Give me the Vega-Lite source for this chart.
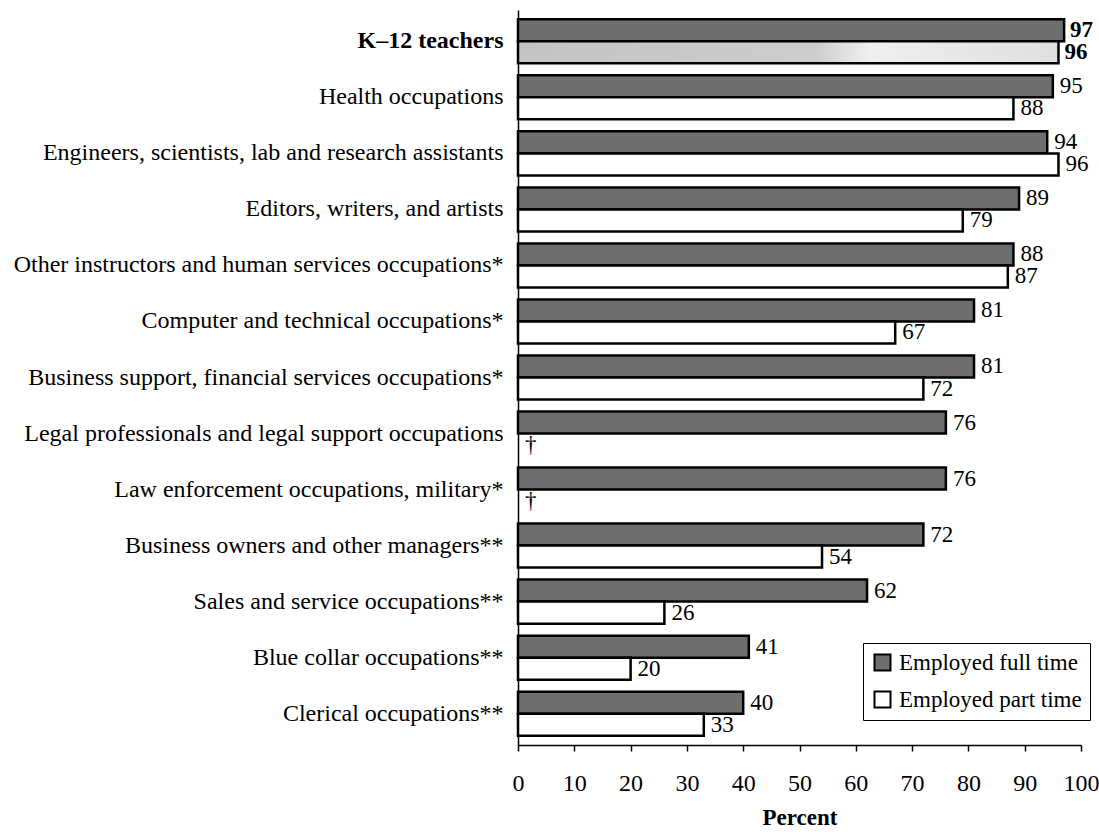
{
  "$schema": "https://vega.github.io/schema/vega-lite/v6.json",
  "autosize": {"type": "none"},
  "padding": {"left": 518, "top": 10, "right": 18, "bottom": 87},
  "width": 563,
  "height": 735,
  "background": "white",
  "config": {
    "view": {"stroke": null},
    "font": "Liberation Serif",
    "axis": {"labelFont": "Liberation Serif", "titleFont": "Liberation Serif", "labelColor": "black", "titleColor": "black", "domainColor": "black", "tickColor": "black", "grid": false},
    "legend": {"labelFont": "Liberation Serif"}
  },
  "data": {
    "values": [
      {"occ": "K–12 teachers", "series": "Employed full time", "value": 97, "label": "97"},
      {"occ": "K–12 teachers", "series": "Employed part time", "value": 96, "label": "96"},
      {"occ": "Health occupations", "series": "Employed full time", "value": 95, "label": "95"},
      {"occ": "Health occupations", "series": "Employed part time", "value": 88, "label": "88"},
      {"occ": "Engineers, scientists, lab and research assistants", "series": "Employed full time", "value": 94, "label": "94"},
      {"occ": "Engineers, scientists, lab and research assistants", "series": "Employed part time", "value": 96, "label": "96"},
      {"occ": "Editors, writers, and artists", "series": "Employed full time", "value": 89, "label": "89"},
      {"occ": "Editors, writers, and artists", "series": "Employed part time", "value": 79, "label": "79"},
      {"occ": "Other instructors and human services occupations*", "series": "Employed full time", "value": 88, "label": "88"},
      {"occ": "Other instructors and human services occupations*", "series": "Employed part time", "value": 87, "label": "87"},
      {"occ": "Computer and technical occupations*", "series": "Employed full time", "value": 81, "label": "81"},
      {"occ": "Computer and technical occupations*", "series": "Employed part time", "value": 67, "label": "67"},
      {"occ": "Business support, financial services occupations*", "series": "Employed full time", "value": 81, "label": "81"},
      {"occ": "Business support, financial services occupations*", "series": "Employed part time", "value": 72, "label": "72"},
      {"occ": "Legal professionals and legal support occupations", "series": "Employed full time", "value": 76, "label": "76"},
      {"occ": "Legal professionals and legal support occupations", "series": "Employed part time", "value": null, "label": "†"},
      {"occ": "Law enforcement occupations, military*", "series": "Employed full time", "value": 76, "label": "76"},
      {"occ": "Law enforcement occupations, military*", "series": "Employed part time", "value": null, "label": "†"},
      {"occ": "Business owners and other managers**", "series": "Employed full time", "value": 72, "label": "72"},
      {"occ": "Business owners and other managers**", "series": "Employed part time", "value": 54, "label": "54"},
      {"occ": "Sales and service occupations**", "series": "Employed full time", "value": 62, "label": "62"},
      {"occ": "Sales and service occupations**", "series": "Employed part time", "value": 26, "label": "26"},
      {"occ": "Blue collar occupations**", "series": "Employed full time", "value": 41, "label": "41"},
      {"occ": "Blue collar occupations**", "series": "Employed part time", "value": 20, "label": "20"},
      {"occ": "Clerical occupations**", "series": "Employed full time", "value": 40, "label": "40"},
      {"occ": "Clerical occupations**", "series": "Employed part time", "value": 33, "label": "33"}
    ]
  },
  "encoding": {
    "y": {
      "field": "occ", "type": "nominal", "sort": null,
      "scale": {"paddingInner": 0.214, "paddingOuter": 0.166},
      "axis": {
        "title": null, "ticks": false, "domainWidth": 1.5, "labelFontSize": 24, "labelPadding": 15, "labelLimit": 700,
        "labelFontWeight": {"condition": {"test": "datum.value === 'K–12 teachers'", "value": "bold"}, "value": "normal"}
      }
    },
    "yOffset": {"field": "series", "type": "nominal", "sort": ["Employed full time", "Employed part time"], "scale": {"paddingInner": 0, "paddingOuter": 0}}
  },
  "layer": [
    {
      "mark": {"type": "bar", "stroke": "black", "strokeWidth": 2.5},
      "encoding": {
        "x": {
          "field": "value", "type": "quantitative",
          "scale": {"domain": [0, 100], "nice": false},
          "axis": {"values": [0, 10, 20, 30, 40, 50, 60, 70, 80, 90, 100], "labelFlush": false, "labelOverlap": false, "tickSize": 6, "tickWidth": 1.5, "domainWidth": 1.5, "labelFontSize": 24, "labelPadding": 20, "title": "Percent", "titleFontSize": 23, "titleFontWeight": "bold", "titlePadding": 11}
        },
        "fill": {
          "condition": {"test": "datum.occ === 'K–12 teachers' && datum.series === 'Employed part time'", "value": {"gradient": "linear", "x1": 0, "y1": 0, "x2": 1, "y2": 0, "stops": [{"offset": 0, "color": "#c4c4c4"}, {"offset": 0.55, "color": "#cdcdcd"}, {"offset": 0.65, "color": "#efefef"}, {"offset": 1, "color": "#e0e0e0"}]}},
          "field": "series", "type": "nominal",
          "scale": {"domain": ["Employed full time", "Employed part time"], "range": ["#6e6e6e", "#ffffff"]},
          "legend": {
            "title": null, "orient": "none", "legendX": 345, "legendY": 633,
            "strokeColor": "black", "fillColor": "white", "padding": 8,
            "symbolType": "square", "symbolSize": 256, "symbolStrokeColor": "black", "symbolStrokeWidth": 2,
            "labelFontSize": 23, "labelColor": "black", "labelOffset": 5, "rowPadding": 12, "labelLimit": 400
          }
        }
      }
    },
    {
      "transform": [
        {"filter": "datum.occ !== 'K–12 teachers'"},
        {"calculate": "datum.value == null ? 0 : datum.value", "as": "xpos"}
      ],
      "mark": {"type": "text", "align": "left", "baseline": "middle", "dx": 7, "fontSize": 23, "fill": "black", "font": "Liberation Serif"},
      "encoding": {
        "x": {"field": "xpos", "type": "quantitative"},
        "text": {"field": "label"}
      }
    },
    {
      "transform": [
        {"filter": "datum.occ === 'K–12 teachers'"}
      ],
      "mark": {"type": "text", "align": "left", "baseline": "middle", "dx": 6, "fontSize": 23, "fontWeight": "bold", "fill": "black", "font": "Liberation Serif"},
      "encoding": {
        "x": {"field": "value", "type": "quantitative"},
        "text": {"field": "label"}
      }
    }
  ]
}
